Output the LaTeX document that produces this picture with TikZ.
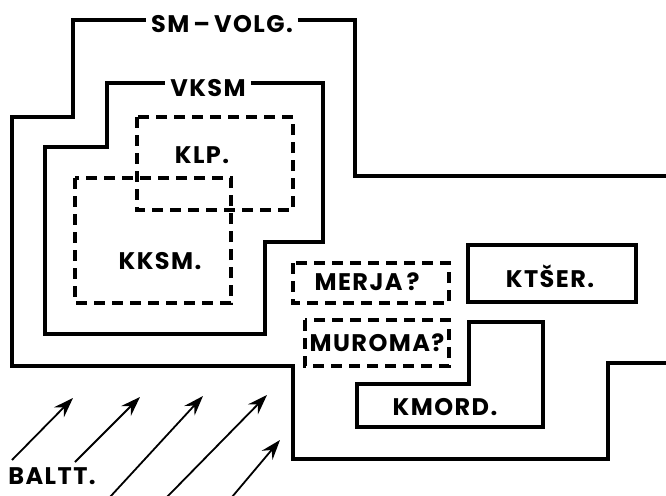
\documentclass[tikz,border=0pt]{standalone}
\usepackage{fontspec}
\setmainfont{Poppins}
\newfontfamily\lblfont{Poppins}[LetterSpace=6]
\usetikzlibrary{arrows.meta,positioning,calc}
\tikzset{
  wall/.style={draw,line width=4.2pt,line join=miter},
  dashwall/.style={wall,dash pattern=on 11pt off 7pt},
  lbl/.style={font=\lblfont\bfseries\fontsize{24}{24}\selectfont,inner sep=5pt},
  flow/.style={line width=1.8pt,-{Stealth[length=20pt,width=14pt,inset=7pt]}},
  >=Stealth
}

\begin{document}
\begin{tikzpicture}[x=1pt,y=-1pt]
  \useasboundingbox (0,0) rectangle (666,495);

  % outer area
  \node[lbl] (smvolg) at (222,24) {SM\,–\,VOLG.};
  \draw[wall] (smvolg.east |- 0,20) -- (355,20) -- (355,176) -- (672,176);
  \draw[wall] (672,363) -- (608,363) -- (608,459) -- (293,459) -- (293,366)
    -- (12,366) -- (12,117) -- (73,117) -- (73,20) -- (smvolg.west |- 0,20);

  % inner area
  \node[lbl] (vksm) at (208,88) {VKSM};
  \draw[wall] (vksm.east |- 0,83) -- (323,83) -- (323,242) -- (265,242) -- (265,334)
    -- (45,334) -- (45,147) -- (107,147) -- (107,83) -- (vksm.west |- 0,83);

  % dashed groups
  \draw[dashwall] (137,117) rectangle (293,210);
  \node[lbl] (klp) at (202,155) {KLP.};
  \draw[dashwall] (75,178) rectangle (231,303);
  \node[lbl] (kksm) at (160,261) {KKSM.};
  \draw[dashwall] (293,263) rectangle (449,303);
  \node[lbl] (merja) at (367,282) {MERJA\,?};
  \draw[dashwall] (305,320) rectangle (449,366);
  \node[lbl] (muroma) at (377,343) {MUROMA?};

  % solid groups
  \draw[wall] (468,245) rectangle (636,302);
  \node[lbl] (ktser) at (550,276) {KTŠER.};
  \draw[wall] (469,322) -- (543,322) -- (543,427) -- (357,427) -- (357,384)
    -- (469,384) -- cycle;
  \node[lbl] (kmord) at (445,407) {KMORD.};

  % baltic influence
  \node[lbl,inner sep=2pt] (baltt) at (52,476) {BALTT.};
  \foreach \sx/\sy/\ex/\ey [count=\i] in {12/460/73/398, 75/462/140/397,
      110/497/203/396, 167/497/267/395, 232/497/280/440} {
    \coordinate (t\i) at (\sx,\sy);
    \coordinate (h\i) at (\ex,\ey);
    \draw[flow] (t\i) -- (h\i);
  }
\end{tikzpicture}
\end{document}
